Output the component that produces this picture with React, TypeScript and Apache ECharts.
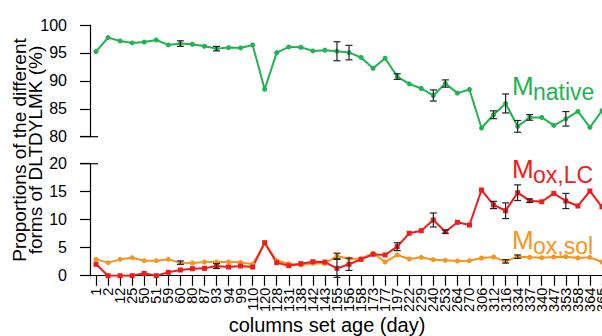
import React, { useEffect, useRef } from "react";
import * as echarts from "echarts";

// Sampling days of the column set
const categories = [
  "1", "2", "12", "25", "50", "51", "59", "60", "80", "87",
  "93", "94", "99", "110", "120", "128", "131", "138", "142", "143",
  "155", "156", "158", "173", "177", "197", "222", "229", "240", "253", "264",
  "270", "306", "312", "316", "334", "337", "340", "347", "353", "358", "364", "365",
];

// Native form (%)
const nativeValues = [
  95.24, 97.74, 97.14, 96.79, 96.96, 97.32, 96.43, 96.67, 96.55, 96.19,
  95.77, 95.95, 95.89, 96.43, 88.5, 95.06, 96.07, 96.01, 95.36, 95.5,
  95.3, 95.06, 94.2, 92.26, 94.05, 90.77, 89.46, 88.63, 87.38, 89.52, 87.8,
  88.45, 81.55, 83.93, 85.95, 81.85, 83.45, 83.45, 82.02, 83.2, 84.52, 81.67, 84.64,
];
const nativeErr = [
  0, 0, 0, 0, 0, 0, 0, 0.5, 0, 0,
  0.4, 0, 0, 0, 0, 0, 0, 0, 0, 0,
  1.7, 1.3, 0, 0, 0, 0.5, 0, 0, 1.0, 0.65, 0,
  0, 0, 0.7, 1.7, 1.05, 0.5, 0, 0, 1.3, 0, 0, 0,
];

// Oxidised form, LC (%)
const oxLcValues = [
  2.04, 0, 0, 0, 0.42, 0, 0.6, 1.02, 1.26, 1.31,
  1.73, 1.55, 1.73, 1.55, 5.9, 2.33, 1.79, 2.15, 2.5, 2.44,
  1.31, 2.04, 2.92, 3.82, 3.7, 5.18, 7.57, 8.04, 9.95, 7.86, 9.53,
  9.05, 15.3, 12.63, 11.6, 14.82, 13.4, 13.2, 14.7, 13.34, 12.45, 15.12, 12.3,
];
const oxLcErr = [
  0, 0, 0, 0, 0, 0, 0, 0, 0, 0,
  0.45, 0, 0, 0, 0, 0, 0, 0, 0, 0,
  1.6, 1.1, 0, 0, 0, 0.7, 0, 0, 1.25, 0.3, 0,
  0, 0, 0.65, 1.4, 1.4, 0.3, 0, 0, 1.35, 0, 0, 0,
];

// Oxidised form, soluble (%)
const oxSolValues = [
  2.92, 2.33, 2.92, 3.22, 2.68, 2.68, 2.92, 2.33, 2.27, 2.44,
  2.44, 2.44, 2.38, 2.04, 5.77, 2.68, 2.15, 1.9, 2.2, 2.2,
  3.52, 3.04, 3.04, 4.0, 2.44, 3.7, 2.98, 3.28, 2.86, 2.74, 2.62,
  2.68, 3.16, 3.34, 2.56, 3.4, 3.28, 3.22, 3.34, 3.4, 3.16, 3.28, 2.44,
];
const oxSolErr = [
  0, 0, 0, 0, 0, 0, 0, 0.3, 0, 0,
  0, 0, 0, 0, 0, 0, 0, 0, 0, 0,
  0.5, 0, 0, 0, 0, 0, 0, 0, 0, 0, 0,
  0, 0, 0, 0.3, 0.3, 0, 0, 0, 0, 0, 0, 0,
];

const topTicks = [80, 100, 5];
const bottomTicks = [0, 20, 5];

const GREEN = "#1fb44f";
const RED = "#f21b1b";
const ORANGE = "#f7941d";
const FONT = "'Liberation Sans', Arial, sans-serif";

function errData(values: number[], err: number[]) {
  return values
    .map((v, i) => (err[i] > 0 ? [i, v, err[i]] : null))
    .filter((d) => d !== null);
}

function errSeries(values: number[], err: number[], axis: number) {
  return {
    type: "custom",
    xAxisIndex: axis,
    yAxisIndex: axis,
    encode: { x: 0, y: 1 },
    data: errData(values, err),
    z: 5,
    renderItem: (_p: any, api: any) => {
      const i = api.value(0);
      const v = api.value(1);
      const e = api.value(2);
      const t = api.coord([i, v + e]);
      const b = api.coord([i, v - e]);
      const w = 3.5;
      const style = { stroke: "#222", lineWidth: 1.2 };
      return {
        type: "group",
        children: [
          { type: "line", shape: { x1: t[0], y1: t[1], x2: b[0], y2: b[1] }, style },
          { type: "line", shape: { x1: t[0] - w, y1: t[1], x2: t[0] + w, y2: t[1] }, style },
          { type: "line", shape: { x1: b[0] - w, y1: b[1], x2: b[0] + w, y2: b[1] }, style },
        ],
      };
    },
  };
}

function lineSeries(values: number[], color: string, axis: number, symbol: string) {
  return {
    type: "line",
    xAxisIndex: axis,
    yAxisIndex: axis,
    data: values,
    symbol,
    symbolSize: 5,
    showSymbol: true,
    lineStyle: { color, width: 2 },
    itemStyle: { color },
    z: 3,
  };
}

function yAxis(grid: number, range: number[]) {
  return {
    type: "value",
    gridIndex: grid,
    min: range[0],
    max: range[1],
    interval: range[2],
    axisLine: { show: true, lineStyle: { color: "#000", width: 1.2 } },
    axisTick: { show: true, length: 10, lineStyle: { color: "#000", width: 1.2 } },
    splitLine: { show: false },
    axisLabel: { color: "#000", fontSize: 16, fontFamily: FONT, margin: 23 },
  };
}

function legend(x: number, y: number, sub: string, color: string) {
  return [
    {
      type: "text",
      x,
      y,
      style: { text: "M", fill: color, font: `26px ${FONT}`, textVerticalAlign: "middle" },
    },
    {
      type: "text",
      x: x + 21,
      y: y + 6,
      style: { text: sub, fill: color, font: `23px ${FONT}`, textVerticalAlign: "middle" },
    },
  ];
}

export default function App() {
  const ref = useRef<HTMLDivElement>(null);

  useEffect(() => {
    if (!ref.current) return;
    const chart = echarts.init(ref.current, null, { renderer: "svg" });
    const breakStyle = { stroke: "#000", lineWidth: 1.2 };
    chart.setOption({
      animation: false,
      backgroundColor: "#fff",
      grid: [
        { left: 90, top: 25, width: 518, height: 111.7 },
        { left: 90, top: 163.7, width: 518, height: 112 },
      ],
      xAxis: [
        {
          type: "category",
          gridIndex: 0,
          data: categories,
          boundaryGap: true,
          axisLine: { show: false },
          axisTick: { show: false },
          axisLabel: { show: false },
        },
        {
          type: "category",
          gridIndex: 1,
          data: categories,
          boundaryGap: true,
          axisLine: { show: true, lineStyle: { color: "#000", width: 1.2 } },
          axisTick: { show: true, alignWithLabel: true, length: 10, lineStyle: { color: "#000", width: 1.2 } },
          axisLabel: {
            rotate: 90,
            interval: 0,
            margin: 12,
            color: "#000",
            fontSize: 14.5,
            fontFamily: FONT,
            hideOverlap: false,
          },
        },
      ],
      yAxis: [yAxis(0, topTicks), yAxis(1, bottomTicks)],
      series: [
        lineSeries(nativeValues, GREEN, 0, "circle"),
        lineSeries(oxSolValues, ORANGE, 1, "circle"),
        lineSeries(oxLcValues, RED, 1, "rect"),
        errSeries(nativeValues, nativeErr, 0),
        errSeries(oxSolValues, oxSolErr, 1),
        errSeries(oxLcValues, oxLcErr, 1),
      ],
      graphic: [
        // axis break marks
        { type: "line", shape: { x1: 80, y1: 136.7, x2: 98, y2: 136.7 }, style: breakStyle },
        { type: "line", shape: { x1: 80, y1: 163.7, x2: 98, y2: 163.7 }, style: breakStyle },
        {
          type: "text",
          x: 27,
          y: 150,
          rotation: Math.PI / 2,
          style: {
            text: "Proportions of the different\nforms of DLTDYLMK (%)",
            fill: "#000",
            font: `19px ${FONT}`,
            lineHeight: 16,
            textAlign: "center",
            textVerticalAlign: "middle",
          },
        },
        {
          type: "text",
          x: 327,
          y: 325,
          style: {
            text: "columns set age (day)",
            fill: "#000",
            font: `20px ${FONT}`,
            textAlign: "center",
            textVerticalAlign: "middle",
          },
        },
        ...legend(512, 86, "native", GREEN),
        ...legend(512, 169, "ox,LC", RED),
        ...legend(512, 240, "ox,sol", ORANGE),
      ],
    });
    return () => chart.dispose();
  }, []);

  return (
    <div
      ref={ref}
      style={{ position: "fixed", left: 0, top: 0, width: 620, height: 336 }}
    />
  );
}
